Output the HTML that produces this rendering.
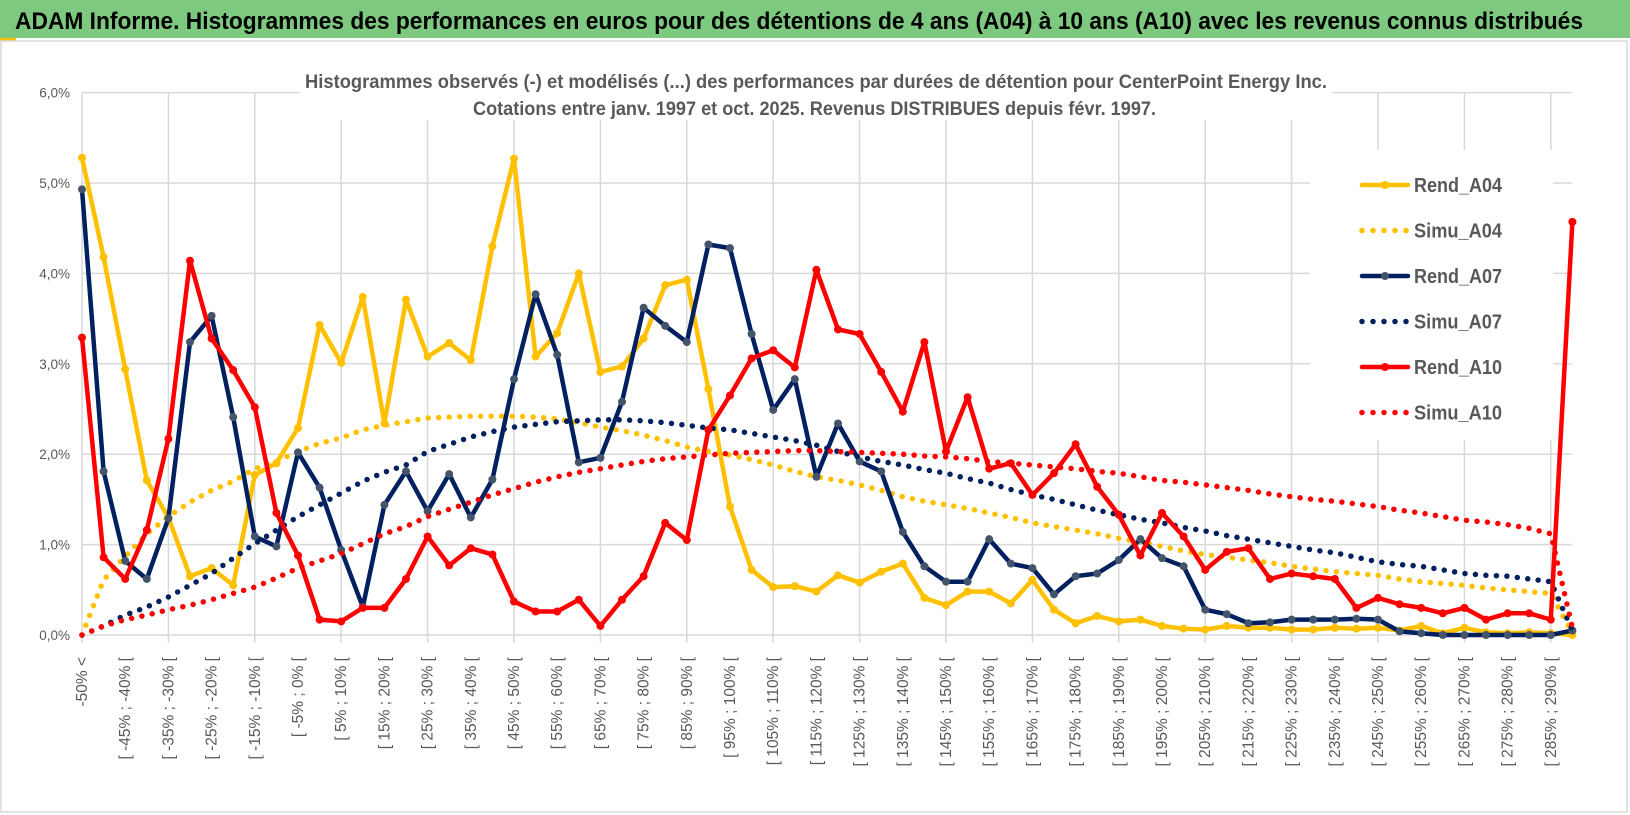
<!DOCTYPE html>
<html><head><meta charset="utf-8"><style>
html,body{margin:0;padding:0;background:#fff;}
svg{display:block;font-family:"Liberation Sans",sans-serif;}
</style></head><body>
<svg id="chart" width="1630" height="815" viewBox="0 0 1630 815" xmlns="http://www.w3.org/2000/svg">
<rect x="0" y="0" width="1630" height="815" fill="#fff"/>
<rect x="0" y="0" width="1630" height="38" fill="#7dc97f"/>
<rect x="0" y="38" width="16" height="3" fill="#ffc000"/>
<text x="15" y="29" font-size="24" font-weight="bold" fill="#000" textLength="1568" lengthAdjust="spacingAndGlyphs">ADAM Informe. Histogrammes des performances en euros pour des détentions de 4 ans (A04) à 10 ans (A10) avec les revenus connus distribués</text>
<rect x="1" y="41" width="1626" height="771" fill="none" stroke="#d9d9d9" stroke-width="1.5"/>
<g id="grid"></g>
<rect x="1310" y="150" width="243" height="290" fill="#fff"/>
<g id="xlabels"></g>
<g id="ylabels"></g>
<rect x="300" y="62" width="1032" height="58" fill="#fff"/>
<g id="series"></g>
<text x="305" y="88" font-size="19" font-weight="bold" fill="#595959" textLength="1022" lengthAdjust="spacingAndGlyphs">Histogrammes observés (-) et modélisés (...) des performances par durées de détention pour CenterPoint Energy Inc.</text>
<text x="473" y="115" font-size="19" font-weight="bold" fill="#595959" textLength="683" lengthAdjust="spacingAndGlyphs">Cotations entre janv. 1997 et oct. 2025.  Revenus DISTRIBUES depuis févr. 1997.</text>
<g id="legend"></g>
</svg>
<script>
const rendA04 = [5.28,4.18,2.94,1.71,1.30,0.65,0.74,0.55,1.77,1.90,
2.29,3.43,3.01,3.74,2.34,3.71,3.08,3.23,3.04,4.30,
5.27,3.08,3.34,4.00,2.91,2.97,3.28,3.87,3.93,2.72,
1.42,0.72,0.53,0.54,0.48,0.66,0.58,0.70,0.79,0.41,
0.33,0.48,0.48,0.35,0.61,0.28,0.13,0.21,0.15,0.17,
0.10,0.07,0.06,0.10,0.08,0.08,0.06,0.06,0.08,0.07,
0.08,0.05,0.10,0.02,0.08,0.03,0.02,0.03,0.02,0.00];
const simuA04 = [0,0.61,0.87,1.12,1.31,1.47,1.60,1.70,1.84,1.92,
2.03,2.12,2.18,2.27,2.32,2.36,2.40,2.41,2.42,2.42,
2.42,2.41,2.39,2.35,2.30,2.26,2.21,2.15,2.08,2.03,
1.99,1.94,1.88,1.81,1.75,1.71,1.66,1.60,1.53,1.48,
1.44,1.40,1.35,1.30,1.24,1.20,1.16,1.12,1.07,1.03,
0.98,0.93,0.89,0.86,0.83,0.80,0.76,0.73,0.70,0.68,
0.66,0.62,0.59,0.57,0.55,0.52,0.50,0.48,0.46,0.02];
const rendA07 = [4.93,1.81,0.82,0.62,1.29,3.24,3.53,2.41,1.09,0.98,
2.02,1.63,0.94,0.31,1.44,1.81,1.37,1.78,1.30,1.72,
2.83,3.77,3.10,1.91,1.96,2.58,3.62,3.42,3.24,4.32,
4.28,3.33,2.49,2.83,1.75,2.34,1.92,1.81,1.14,0.76,
0.59,0.59,1.06,0.79,0.74,0.45,0.65,0.68,0.83,1.06,
0.85,0.76,0.28,0.23,0.13,0.14,0.17,0.17,0.17,0.18,
0.17,0.04,0.02,0,0,0,0,0,0,0.05];
const simuA07 = [0,0.10,0.22,0.31,0.42,0.55,0.68,0.85,1.01,1.16,
1.31,1.44,1.57,1.70,1.80,1.88,2.03,2.11,2.19,2.25,
2.30,2.33,2.36,2.37,2.38,2.38,2.37,2.35,2.32,2.29,
2.27,2.23,2.19,2.15,2.10,2.03,1.97,1.92,1.88,1.83,
1.79,1.73,1.68,1.61,1.55,1.50,1.44,1.38,1.33,1.28,
1.24,1.19,1.15,1.10,1.06,1.02,0.98,0.94,0.91,0.86,
0.81,0.78,0.76,0.72,0.68,0.66,0.65,0.62,0.59,0.05];
const rendA10 = [3.29,0.86,0.62,1.16,2.17,4.14,3.28,2.93,2.52,1.35,
0.88,0.17,0.15,0.30,0.30,0.62,1.09,0.77,0.96,0.89,
0.37,0.26,0.26,0.39,0.10,0.39,0.65,1.24,1.05,2.27,
2.65,3.06,3.15,2.96,4.04,3.38,3.33,2.91,2.47,3.24,
2.03,2.63,1.84,1.90,1.55,1.79,2.11,1.64,1.33,0.88,
1.35,1.09,0.72,0.92,0.96,0.62,0.68,0.65,0.62,0.30,
0.41,0.34,0.30,0.24,0.30,0.17,0.24,0.24,0.17,4.57];
const simuA10 = [0,0.10,0.17,0.22,0.28,0.33,0.39,0.46,0.53,0.63,
0.74,0.82,0.90,1.01,1.12,1.20,1.31,1.39,1.47,1.55,
1.62,1.69,1.75,1.80,1.84,1.88,1.92,1.95,1.97,1.99,
2.01,2.02,2.03,2.04,2.04,2.03,2.02,2.01,2.00,1.98,
1.97,1.95,1.92,1.90,1.88,1.86,1.84,1.81,1.79,1.75,
1.71,1.69,1.66,1.63,1.60,1.56,1.53,1.50,1.48,1.45,
1.42,1.38,1.35,1.31,1.27,1.25,1.22,1.18,1.12,0.08];
const yTicks = [0,1,2,3,4,5,6];
const yTickLabels = ["0,0%","1,0%","2,0%","3,0%","4,0%","5,0%","6,0%"];
const legendNames = ["Rend_A04","Simu_A04","Rend_A07","Simu_A07","Rend_A10","Simu_A10"];
const categories = ["-50% <"];
for (let i = 1; i < 70; i++) { const a = -55 + 5*i; categories.push("[ " + a + "% ; " + (a+5) + "% ["); }

const NS = "http://www.w3.org/2000/svg";
const X0 = 82, DX = 21.6, Y0 = 635, DY = 90.4, XR = 1572;
const xPos = i => X0 + DX*i;
const yPos = v => Y0 - DY*v;
function mk(tag, attrs, parent){ const e=document.createElementNS(NS,tag); for(const k in attrs) e.setAttribute(k,attrs[k]); parent.appendChild(e); return e; }

const grid = document.getElementById('grid');
yTicks.forEach((t,k)=>{
  const l = mk('line',{x1:X0,x2:XR,y1:yPos(t),y2:yPos(t),stroke:'#d9d9d9','stroke-width':1.5},grid);
  
  
  const tx = mk('text',{x:70,y:yPos(t)+5,'text-anchor':'end','font-size':13.5,fill:'#595959'},document.getElementById('ylabels'));
  tx.textContent = yTickLabels[k];
  
  
});
for (let i = 0; i < categories.length; i += 4) {
  const l = mk('line',{x1:xPos(i),x2:xPos(i),y1:yPos(6),y2:Y0+8,stroke:'#d9d9d9','stroke-width':1.5},grid);
  
  
}
const xl = document.getElementById('xlabels');
for (let i = 0; i < categories.length; i += 2) {
  const x = xPos(i) + 5, y = 657;
  const t = mk('text',{x:x,y:y,transform:`rotate(-90 ${x} ${y})`,'text-anchor':'end','font-size':15.5,fill:'#595959'},xl);
  t.textContent = categories[i];
  
  
}

const seriesG = document.getElementById('series');
function solid(data, color, markerColor, name){
  const g = mk('g',{},seriesG);
  
  
  const pts = data.map((v,i)=>xPos(i).toFixed(1)+','+yPos(v).toFixed(1)).join(' ');
  const pl = mk('polyline',{points:pts,fill:'none',stroke:color,'stroke-width':4.5,'stroke-linejoin':'round'},g);
  
  
  data.forEach((v,i)=>{
    const c = mk('circle',{cx:xPos(i),cy:yPos(v),r:4,fill:markerColor},g);
    
    
  });
}
function dotted(data, color, name){
  const pts = data.map((v,i)=>xPos(i).toFixed(1)+','+yPos(v).toFixed(1)).join(' ');
  const pl = mk('polyline',{points:pts,fill:'none',stroke:color,'stroke-width':5.5,'stroke-linecap':'round','stroke-dasharray':'0 10.5'},seriesG);
  
  
}
solid(rendA04,'#ffc000','#ffc000','rend-a04');
dotted(simuA04,'#ffc000','simu-a04');
solid(rendA07,'#002060','#44546a','rend-a07');
dotted(simuA07,'#002060','simu-a07');
solid(rendA10,'#ff0000','#ff0000','rend-a10');
dotted(simuA10,'#ff0000','simu-a10');

const lg = document.getElementById('legend');
const lColors = ['#ffc000','#ffc000','#002060','#002060','#ff0000','#ff0000'];
const lMarkers = ['#ffc000',null,'#44546a',null,'#ff0000',null];
legendNames.forEach((n,k)=>{
  const y = 185 + k*45.5;
  const g = mk('g',{},lg);
  
  
  if (k % 2 === 0) {
    mk('line',{x1:1362,x2:1408,y1:y,y2:y,stroke:lColors[k],'stroke-width':4.5,'stroke-linecap':'round'},g);
    mk('circle',{cx:1385,cy:y,r:4,fill:lMarkers[k]},g);
  } else {
    mk('line',{x1:1362,x2:1408,y1:y,y2:y,stroke:lColors[k],'stroke-width':5.5,'stroke-linecap':'round','stroke-dasharray':'0 11'},g);
  }
  const t = mk('text',{x:1414,y:y+7,'font-size':20,'font-weight':'bold',fill:'#595959',textLength:88,lengthAdjust:'spacingAndGlyphs'},g);
  t.textContent = n;
});
</script>
</body></html>
